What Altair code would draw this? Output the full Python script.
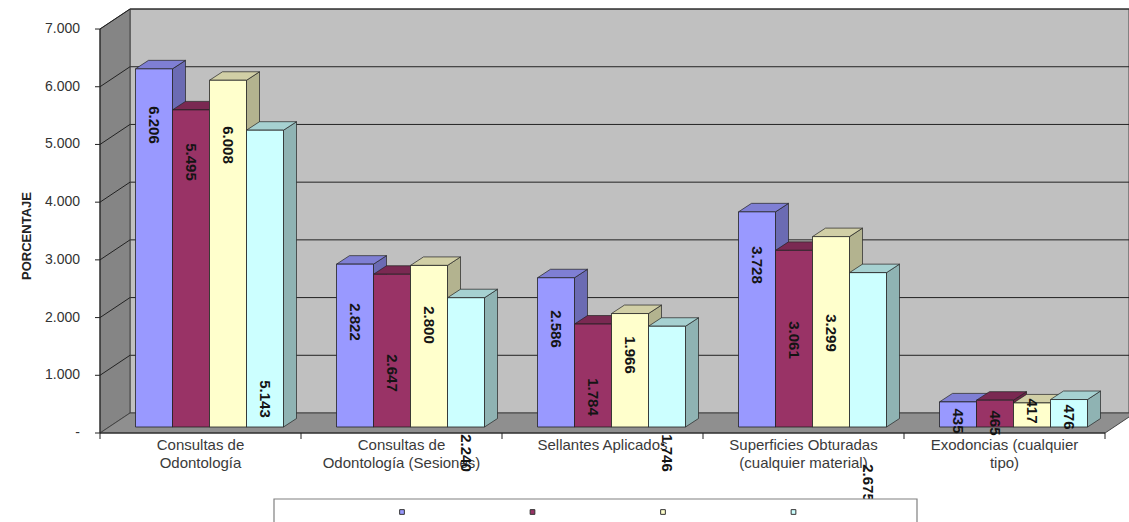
import altair as alt
import pandas as pd

# ---------------- data ----------------
categories = [
    "Consultas de\nOdontología",
    "Consultas de\nOdontología (Sesiones)",
    "Sellantes Aplicados",
    "Superficies Obturadas\n(cualquier material)",
    "Exodoncias (cualquier\ntipo)",
]
serie_1 = [6206, 2822, 2586, 3728, 435]
serie_2 = [5495, 2647, 1784, 3061, 465]
serie_3 = [6008, 2800, 1966, 3299, 417]
serie_4 = [5143, 2240, 1746, 2675, 476]
y_ticks = [0, 1000, 2000, 3000, 4000, 5000, 6000, 7000]
y_title = "PORCENTAJE"

series_values = [serie_1, serie_2, serie_3, serie_4]

# where each value label sits (value units above the bar base)
label_mid = [
    [5233, 1819, 1698, 2807, 104],
    [4592, 936, 520, 1508, 69],
    [4886, 1767, 1248, 1629, 277],
    [485, -451, -451, -970, 173],
]

# ---------------- styling ----------------
front_colors = ["#9999FF", "#993366", "#FFFFCC", "#CCFFFF"]
side_colors = ["#6B6BB3", "#6B2447", "#B3B38F", "#8FB3B3"]
top_colors = ["#7F7FD4", "#7A2952", "#D1CFA6", "#A6D1D1"]
FONT = "Liberation Sans"
LABEL_FONT = "Liberation Sans Narrow, Liberation Sans"
INK = "#222"

# ---------------- geometry (pseudo-3D) ----------------
W, H = 1029, 424
PX_CAT = 201.0          # pixels per category slot
PX_VAL = 0.05771        # pixels per value unit


def dxp(px):
    return px / PX_CAT


def dyp(px):
    return px / PX_VAL


XMAX = W / PX_CAT
YMAX = H / PX_VAL
NCAT = len(categories)
TOP_GRID = y_ticks[-1]

WALL_DX, WALL_DY = dxp(30), dyp(20)
BAR_DX0, BAR_DY0 = dxp(9), dyp(6)
BAR_DX, BAR_DY = dxp(13), dyp(8.5)
BAR_W = dxp(37)
GAP = (1 - len(series_values) * BAR_W) / 2
TICK_X = dxp(5)
TICK_Y = dyp(6)

xs = alt.Scale(domain=[0, XMAX], nice=False, zero=False)
ys = alt.Scale(domain=[0, YMAX], nice=False, zero=False)


def X(f):
    return alt.X(f, type="quantitative", scale=xs, axis=None)


def Y(f):
    return alt.Y(f, type="quantitative", scale=ys, axis=None)


def X2(f):
    return alt.X2(f)


def Y2(f):
    return alt.Y2(f)


def fmt(v):
    return f"{v:,}".replace(",", ".")


# ---------------- bar tables ----------------
fronts, sides, tops, labels = [], [], [], []
for s, vals in enumerate(series_values):
    for c, v in enumerate(vals):
        bid = f"{c}-{s}"
        x0 = c + BAR_DX0 + GAP + s * BAR_W
        x1 = x0 + BAR_W
        base = BAR_DY0
        top = BAR_DY0 + v
        fronts.append(dict(x0=x0, x1=x1, y0=base, y1=top, col=front_colors[s]))
        sides.append(dict(bid=bid, x=x1, lo=base, hi=top, col=side_colors[s]))
        sides.append(dict(bid=bid, x=x1 + BAR_DX, lo=base + BAR_DY, hi=top + BAR_DY, col=side_colors[s]))
        tops.append(dict(bid=bid, y=top, l=x0, r=x1, col=top_colors[s]))
        tops.append(dict(bid=bid, y=top + BAR_DY, l=x0 + BAR_DX, r=x1 + BAR_DX, col=top_colors[s]))
        labels.append(dict(x=(x0 + x1) / 2, y=base + label_mid[s][c], t=fmt(v)))

df_front = pd.DataFrame(fronts)
df_side = pd.DataFrame(sides)
df_top = pd.DataFrame(tops)
df_lab = pd.DataFrame(labels)

# ---------------- walls ----------------
back_wall = alt.Chart(pd.DataFrame([dict(x0=WALL_DX, x1=XMAX, y0=WALL_DY, y1=YMAX)])).mark_rect(
    fill="#C0C0C0", stroke="#444", strokeWidth=1
).encode(x=X("x0"), x2=X2("x1"), y=Y("y0"), y2=Y2("y1"))

back_grid = alt.Chart(pd.DataFrame(dict(
    v=[t + WALL_DY for t in y_ticks[1:]], x0=WALL_DX, x1=XMAX,
))).mark_rule(color=INK, strokeWidth=1).encode(x=X("x0"), x2=X2("x1"), y=Y("v"))

left_wall = alt.Chart(pd.DataFrame(dict(x=[0, WALL_DX], lo=[0, WALL_DY], hi=[TOP_GRID, TOP_GRID + WALL_DY]))).mark_area(
    fill="#858585", stroke="#444", strokeWidth=1
).encode(x=X("x"), y=Y("lo"), y2=Y2("hi"))

left_grid = alt.Chart(pd.DataFrame(dict(
    v=y_ticks[1:], v2=[t + WALL_DY for t in y_ticks[1:]], x0=0.0, x1=WALL_DX,
))).mark_rule(color=INK, strokeWidth=1).encode(x=X("x0"), x2=X2("x1"), y=Y("v"), y2=Y2("v2"))

floor = alt.Chart(pd.DataFrame(dict(y=[0, WALL_DY], l=[0, WALL_DX], r=[NCAT, NCAT + WALL_DX]))).mark_area(
    orient="horizontal", fill="#8F8F8F", stroke="#444", strokeWidth=1
).encode(y=Y("y"), x=X("l"), x2=X2("r"))

# ---------------- bars ----------------
bar_side = alt.Chart(df_side).mark_area(stroke=INK, strokeWidth=0.7).encode(
    x=X("x"), y=Y("lo"), y2=Y2("hi"), detail="bid:N", color=alt.Color("col:N", scale=None)
)
bar_top = alt.Chart(df_top).mark_area(orient="horizontal", stroke=INK, strokeWidth=0.7).encode(
    y=Y("y"), x=X("l"), x2=X2("r"), detail="bid:N", color=alt.Color("col:N", scale=None)
)
bar_front = alt.Chart(df_front).mark_rect(stroke=INK, strokeWidth=0.8).encode(
    x=X("x0"), x2=X2("x1"), y=Y("y0"), y2=Y2("y1"), color=alt.Color("col:N", scale=None)
)

bar_labels = alt.Chart(df_lab).mark_text(
    angle=90, align="center", baseline="middle", font=LABEL_FONT, fontWeight="bold",
    fontSize=15, color="#141414"
).encode(x=X("x"), y=Y("y"), text="t:N")

# ---------------- value axis (front edge of the left wall) ----------------
y_line = alt.Chart(pd.DataFrame(dict(x0=[0.0], a=[0], b=[TOP_GRID]))).mark_rule(
    color=INK, strokeWidth=1
).encode(x=X("x0"), y=Y("a"), y2=Y2("b"))

y_tick_df = pd.DataFrame(dict(
    v=y_ticks, x0=-TICK_X, x1=0.0,
    t=["-\u00a0\u00a0\u00a0" if t == 0 else fmt(t) for t in y_ticks],
))
y_tick_marks = alt.Chart(y_tick_df).mark_rule(color=INK, strokeWidth=1).encode(
    x=X("x0"), x2=X2("x1"), y=Y("v")
)
y_tick_labels = alt.Chart(y_tick_df).mark_text(
    align="right", baseline="middle", dx=-20, font=FONT, fontSize=14, color="#333"
).encode(x=X("x1"), y=Y("v"), text="t:N")

y_title_mark = alt.Chart(pd.DataFrame(dict(x=[dxp(-73)], y=[dyp(197)], t=[y_title]))).mark_text(
    angle=270, align="center", baseline="middle", font=FONT, fontSize=13, fontWeight="bold", color=INK
).encode(x=X("x"), y=Y("y"), text="t:N")

# ---------------- category axis (front edge of the floor) ----------------
x_line = alt.Chart(pd.DataFrame(dict(a=[0], b=[NCAT], y0=[0]))).mark_rule(
    color=INK, strokeWidth=1
).encode(x=X("a"), x2=X2("b"), y=Y("y0"))

x_tick_marks = alt.Chart(pd.DataFrame(dict(x=list(range(NCAT + 1)), y0=0.0, y1=-TICK_Y))).mark_rule(
    color=INK, strokeWidth=1
).encode(x=X("x"), y=Y("y0"), y2=Y2("y1"))

cat_labels = alt.Chart(pd.DataFrame(dict(
    x=[c + 0.5 for c in range(NCAT)], y0=0, t=categories,
))).mark_text(
    baseline="top", align="center", dy=5, lineBreak="\n", font=FONT, fontSize=15, lineHeight=18, color="#3a3a3a"
).encode(x=X("x"), y=Y("y0"), text="t:N")

# ---------------- legend (swatches only) ----------------
legend_box = alt.Chart(pd.DataFrame([dict(x0=dxp(174), x1=dxp(817), y0=dyp(-66), y1=dyp(-110))])).mark_rect(
    fill="white", stroke="#808080", strokeWidth=1.2
).encode(x=X("x0"), x2=X2("x1"), y=Y("y0"), y2=Y2("y1"))

legend_marks = alt.Chart(pd.DataFrame(dict(
    x=[dxp(302 + 130.5 * i) for i in range(len(series_values))],
    y=dyp(-79),
    col=front_colors,
))).mark_square(size=22, stroke="#333", strokeWidth=1, opacity=1).encode(
    x=X("x"), y=Y("y"), color=alt.Color("col:N", scale=None),
)

chart = alt.layer(
    back_wall, back_grid, left_wall, left_grid, floor,
    bar_side, bar_top, bar_front,
    y_line, y_tick_marks, y_tick_labels, y_title_mark,
    x_line, x_tick_marks, cat_labels, bar_labels,
    legend_box, legend_marks,
).properties(
    width=W, height=H,
    autosize=alt.AutoSizeParams(type="none"),
    padding={"left": 100, "top": 9, "right": 0, "bottom": 89},
    background="white",
).configure_view(stroke=None)

chart.save("out.html", embed_options={"renderer": "svg", "actions": False})
